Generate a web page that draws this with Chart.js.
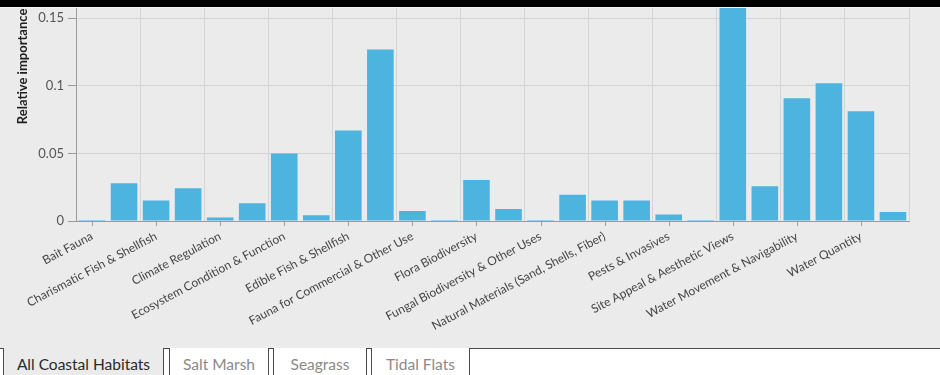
<!DOCTYPE html>
<html>
<head>
<meta charset="utf-8">
<script src="https://cdn.jsdelivr.net/npm/chart.js@4.4.1/dist/chart.umd.min.js"></script>
<style>
  html, body { margin: 0; padding: 0; background: #ffffff; }
  body { width: 940px; height: 375px; overflow: hidden; position: relative; font-family: Lato, "Open Sans", sans-serif; }
  #panel { position: absolute; left: 0; top: 0; width: 940px; height: 348px; background: #ebebeb; overflow: hidden; }
  #plot { position: absolute; left: 0; top: -100px; width: 940px; height: 470px; }
  #topbar { position: absolute; left: 0; top: 0; width: 940px; height: 7px; background: #000; border-bottom: 1px solid #f4f4f4; z-index: 5; }
  #tabs { position: absolute; left: 0; top: 348px; width: 940px; height: 27px; background: #fff; }
  #tabs .rule { position: absolute; left: 0; top: 0; width: 940px; height: 1px; background: #4a4a4a; }
  .tab { position: absolute; top: 0; height: 30px; box-sizing: border-box; border-left: 1px solid #4a4a4a; border-right: 1px solid #4a4a4a;
         background: #fff; color: #8a8a8a; font-size: 15.5px; line-height: 33px; text-align: center; white-space: nowrap; }
  .tab.active { background: #ebebeb; color: #2a2a2a; }
</style>
</head>
<body>
<div id="panel">
  <div id="plot"><canvas id="chart"></canvas></div>
</div>
<div id="topbar"></div>
<div id="tabs">
  <div class="rule"></div>
  <div class="tab active" style="left:3px;width:161px;">All Coastal Habitats</div>
  <div class="tab" style="left:169px;width:100px;">Salt Marsh</div>
  <div class="tab" style="left:273px;width:94px;">Seagrass</div>
  <div class="tab" style="left:371px;width:99px;">Tidal Flats</div>
</div>
<script>
// Ecosystem service categories, alphabetical
const categories = [
  "Bait Fauna",
  "Birds & Wildlife",
  "Charismatic Fish & Shellfish",
  "Charismatic Wildlife",
  "Climate Regulation",
  "Cultural Heritage",
  "Ecosystem Condition & Function",
  "Edible Algae & Plants",
  "Edible Fish & Shellfish",
  "Erosion Control",
  "Fauna for Commercial & Other Use",
  "Flood & Storm Protection",
  "Flora Biodiversity",
  "Flora for Commercial & Other Use",
  "Fungal Biodiversity & Other Uses",
  "Human Health & Safety",
  "Natural Materials (Sand, Shells, Fiber)",
  "Nutrient Cycling",
  "Pests & Invasives",
  "Recreational Opportunities",
  "Site Appeal & Aesthetic Views",
  "Soil & Sediment Quality",
  "Water Movement & Navigability",
  "Water Quality",
  "Water Quantity",
  "Wildlife Habitat"
];

// Relative importance, all coastal habitats
const importance = [
  0.0007, 0.0279, 0.0152, 0.0243, 0.0025, 0.0132, 0.0500, 0.0043,
  0.0669, 0.1268, 0.0074, 0.0007, 0.0304, 0.0088, 0.0007, 0.0194,
  0.0152, 0.0152, 0.0049, 0.0007, 0.1850, 0.0257, 0.0907, 0.1018,
  0.0812, 0.0066
];

// y-axis tick values that get a label
const yTickValues = [0, 0.05, 0.1, 0.15, 0.2];

const BAR_COLOR = "#4db3df";
const GRID_COLOR = "#d4d4d4";
const AXIS_COLOR = "#9a9a9a";

// short tick marks under the category axis, only for labelled categories
const categoryTickMarks = {
  id: "categoryTickMarks",
  afterDraw(chart) {
    const x = chart.scales.x;
    const ctx = chart.ctx;
    ctx.save();
    ctx.strokeStyle = AXIS_COLOR;
    ctx.lineWidth = 1;
    x.ticks.forEach((t, i) => {
      if (i % 2 !== 0) return;
      const px = Math.round(x.getPixelForTick(i)) + 0.5;
      ctx.beginPath();
      ctx.moveTo(px, x.top);
      ctx.lineTo(px, x.top + 5);
      ctx.stroke();
    });
    ctx.restore();
  }
};

new Chart(document.getElementById("chart"), {
  type: "bar",
  data: {
    labels: categories,
    datasets: [{
      label: "Relative importance",
      data: importance,
      backgroundColor: BAR_COLOR,
      borderWidth: 0,
      categoryPercentage: 1.0,
      barPercentage: 0.83
    }]
  },
  options: {
    responsive: true,
    maintainAspectRatio: false,
    animation: false,
    layout: { padding: { top: 10, right: 31, left: 0, bottom: 0 } },
    plugins: { legend: { display: false }, tooltip: { enabled: false } },
    scales: {
      x: {
        offset: true,
        grid: {
          offset: true,
          drawTicks: false,
          color: (c) => (c.index === undefined || c.index % 2 === 0) ? GRID_COLOR : "rgba(0,0,0,0)"
        },
        border: { color: AXIS_COLOR },
        ticks: {
          autoSkip: false,
          minRotation: 28,
          maxRotation: 28,
          padding: 8,
          color: "#444",
          font: { family: "Lato", size: 12 },
          callback: function (value, index) {
            return index % 2 === 0 ? this.getLabelForValue(value) : "";
          }
        },
        afterFit: (s) => { s.height = 149; }
      },
      y: {
        min: 0,
        max: 0.2287,
        grid: { color: GRID_COLOR, tickLength: 8, tickColor: AXIS_COLOR },
        border: { color: AXIS_COLOR },
        ticks: {
          stepSize: 0.05,
          padding: 4,
          color: "#555",
          font: { family: "Lato", size: 13 },
          callback: (v) => {
            const hit = yTickValues.find((t) => Math.abs(t - v) < 1e-9);
            return hit === undefined ? "" : String(hit);
          }
        },
        title: {
          display: true,
          text: "Relative importance",
          color: "#1e1e1e",
          font: { family: "Lato", size: 13, weight: "bold" },
          padding: { top: 15, bottom: 0 }
        },
        afterFit: (s) => { s.width = 76; }
      }
    }
  },
  plugins: [categoryTickMarks]
});
</script>
</body>
</html>
